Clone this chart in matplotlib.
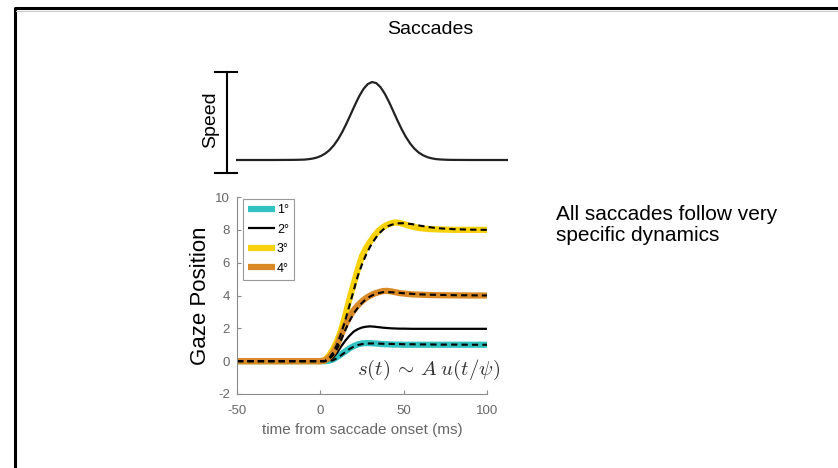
import matplotlib
matplotlib.use("Agg")
import matplotlib.pyplot as plt
from matplotlib.lines import Line2D

plt.rcParams['font.family'] = ['Liberation Sans', 'DejaVu Sans']
plt.rcParams['mathtext.fontset'] = 'cm'
plt.rcParams['axes.unicode_minus'] = False

# speed profile (schematic, normalised)
t_speed = [-50, -40, -30, -20, -15, -10, -7.5, -5, -2.5, 0, 2.5, 5, 7.5, 10,
           12.5, 15, 17.5, 20, 22.5, 25, 27.5, 30, 32.5, 35, 37.5, 40, 42.5,
           45, 47.5, 50, 52.5, 55, 57.5, 60, 62.5, 65, 67.5, 70, 75, 80, 90,
           100, 110]
speed = [0, 0, 0, 0.001, 0.002, 0.005, 0.010, 0.018, 0.031, 0.052, 0.083,
         0.127, 0.187, 0.264, 0.359, 0.468, 0.587, 0.707, 0.819, 0.911, 0.973,
         1.0, 0.986, 0.934, 0.851, 0.745, 0.626, 0.506, 0.392, 0.293, 0.210,
         0.144, 0.095, 0.061, 0.037, 0.022, 0.012, 0.007, 0.002, 0.001, 0, 0, 0]

# gaze position traces (deg) vs time from saccade onset (ms)
t_gaze = [-50, -40, -30, -20, -10, 0, 2.5, 5, 7.5, 10, 12.5, 15, 17.5, 20, 22.5,
          25, 27.5, 30, 32.5, 35, 37.5, 40, 42.5, 45, 47.5, 50, 55, 60, 65, 70,
          80, 90, 100]
labels = ['1°', '2°', '3°', '4°']
colors = ['#33c2c2', 'black', '#f7d10a', '#d98a26']
widths = [4.5, 1.6, 4.5, 4.5]
gaze_1 = [0, 0, 0, 0, 0, 0, 0, 0.02, 0.1, 0.25, 0.42, 0.6, 0.78, 0.92, 1.02,
          1.08, 1.1, 1.1, 1.08, 1.06, 1.04, 1.03, 1.02, 1.01, 1.01, 1.0, 1.0,
          1.0, 1.0, 1.0, 1.0, 1.0, 1.0]
gaze_2 = [0, 0, 0, 0, 0, 0, 0, 0.05, 0.2, 0.5, 0.9, 1.25, 1.55, 1.8, 1.95,
          2.05, 2.1, 2.12, 2.1, 2.07, 2.04, 2.02, 2.0, 1.99, 1.98, 1.98, 1.97,
          1.97, 1.97, 1.97, 1.97, 1.97, 1.97]
gaze_3 = [0, 0, 0, 0, 0, 0, 0.05, 0.3, 0.7, 1.2, 1.9, 2.8, 3.8, 4.7, 5.6,
          6.4, 6.9, 7.3, 7.65, 7.95, 8.15, 8.3, 8.4, 8.45, 8.42, 8.35, 8.2,
          8.1, 8.05, 8.03, 8.0, 8.0, 8.0]
gaze_4 = [0, 0, 0, 0, 0, 0, 0.03, 0.2, 0.5, 0.95, 1.6, 2.2, 2.7, 3.1, 3.4,
          3.65, 3.85, 4.0, 4.12, 4.2, 4.27, 4.28, 4.25, 4.2, 4.15, 4.12, 4.07,
          4.05, 4.03, 4.02, 4.01, 4.0, 4.0]
gaze = [gaze_1, gaze_2, gaze_3, gaze_4]

# model fits (dashed)
fit_1 = [0, 0, 0, 0, 0, 0, 0, 0.01, 0.05, 0.18, 0.36, 0.55, 0.74, 0.88, 0.98,
         1.04, 1.07, 1.08, 1.08, 1.07, 1.06, 1.05, 1.05, 1.04, 1.04, 1.03, 1.03,
         1.02, 1.02, 1.01, 1.01, 1.0, 1.0]
fit_3 = [0, 0, 0, 0, 0, 0, 0, 0.15, 0.5, 1.0, 1.7, 2.5, 3.4, 4.3, 5.2,
         5.9, 6.5, 7.0, 7.4, 7.75, 8.0, 8.2, 8.3, 8.37, 8.4, 8.4, 8.35,
         8.25, 8.17, 8.1, 8.04, 8.01, 8.0]
fit_4 = [0, 0, 0, 0, 0, 0, 0, 0.1, 0.35, 0.75, 1.3, 1.9, 2.45, 2.9, 3.25,
         3.55, 3.78, 3.95, 4.07, 4.15, 4.2, 4.2, 4.2, 4.18, 4.16, 4.14, 4.1,
         4.07, 4.05, 4.04, 4.02, 4.01, 4.0]
fits = [fit_1, fit_3, fit_4]

W, H = 838, 468
fig = plt.figure(figsize=(W / 100, H / 100), dpi=100)

# slide frame
fig.add_artist(Line2D([15 / W, 15 / W, 1], [0, 1 - 8 / H, 1 - 8 / H],
                      transform=fig.transFigure, color='black', lw=2.2))
fig.add_artist(Line2D([16 / W, 1], [1 - 10.5 / H, 1 - 10.5 / H],
                      transform=fig.transFigure, color='#cccccc', lw=0.8))

fig.text(430 / W, 1 - 30 / H, 'Saccades', ha='center', va='center', fontsize=14)
fig.text(556 / W, 1 - 225 / H, 'All saccades follow very\nspecific dynamics',
         ha='left', va='center', fontsize=15, linespacing=1.15)

# speed panel
axs = fig.add_axes([236 / W, (H - 173) / H, 272 / W, 101 / H])
axs.plot(t_speed, speed, color='#222222', lw=1.6)
axs.set_xlim(-50, 110)
axs.set_ylim(-13 / 78, 88 / 78)
axs.axis('off')
bx = -9 / 272
axs.plot([bx, bx], [0, 1], transform=axs.transAxes, color='black', lw=1.5, clip_on=False)
for yy in (0, 1):
    axs.plot([-21 / 272, 1 / 272], [yy, yy], transform=axs.transAxes, color='black',
             lw=1.5, clip_on=False)
axs.text(-25 / 272, 0.525, 'Speed', rotation=90, ha='center', va='center',
         fontsize=14, transform=axs.transAxes)

# gaze panel
ax = fig.add_axes([237 / W, 74 / H, 250 / W, 197 / H])
for i in range(4):
    ax.plot(t_gaze, gaze[i], color=colors[i], lw=widths[i], label=labels[i],
            solid_capstyle='butt')
for f in fits:
    ax.plot(t_gaze, f, color='black', lw=1.5, ls=(0, (3, 2)))

ax.set_xlim(-50, 100)
ax.set_ylim(-2, 10)
ax.set_xticks([-50, 0, 50, 100])
ax.set_yticks([-2, 0, 2, 4, 6, 8, 10])
for s in ('top', 'right'):
    ax.spines[s].set_visible(False)
for s in ('left', 'bottom'):
    ax.spines[s].set_color('#8a8a8a')
ax.tick_params(direction='in', length=3, colors='#8a8a8a', labelcolor='#666666',
               labelsize=9.5)
ax.tick_params(axis='y', pad=5)
ax.tick_params(axis='x', pad=8)
ax.set_xlabel('time from saccade onset (ms)', fontsize=11, color='#666666', labelpad=4)
ax.set_ylabel('Gaze Position', fontsize=16, color='black', labelpad=3)

ax.text(22, -0.55, r'$s(t)\,\sim\,A\;u(t/\psi)$', fontsize=15, color='#333333',
        ha='left', va='center', clip_on=False)

leg = ax.legend(loc='upper left', bbox_to_anchor=(0.022, 0.988), fontsize=9,
                handlelength=2.2, handletextpad=0.15, labelspacing=0.6,
                borderpad=0.4, borderaxespad=0, fancybox=False, framealpha=1)
leg.get_frame().set_edgecolor('#999999')
leg.get_frame().set_linewidth(0.8)

fig.savefig('out.png', dpi=100)
